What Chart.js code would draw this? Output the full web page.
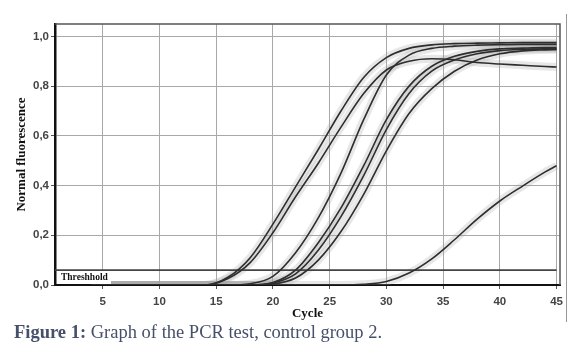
<!DOCTYPE html>
<html>
<head>
<meta charset="utf-8">
<script src="https://cdn.jsdelivr.net/npm/chart.js@4.4.1/dist/chart.umd.min.js"></script>
<style>
    body { margin: 0; background: #fff; }
    #wrap { position: relative; width: 588px; height: 358px; }
    #caption {
        position: absolute; left: 14px; top: 322px;
        font-family: 'Liberation Serif', serif; font-size: 18.5px; color: #46506a;
        white-space: nowrap;
    }
    #caption b { font-weight: bold; }
</style>
</head>
<body>
<div id="wrap">
    <canvas id="chart"></canvas>
    <div id="caption"><b>Figure 1:</b> Graph of the PCR test, control group 2.</div>
</div>
<script>
// Data (cycle -> normalised fluorescence)
const cycles = [4, 14, 16, 18, 20, 22, 24, 26, 28, 30, 32, 34, 36, 38, 40, 42, 44, 45];
const sample_a = [0, 0, 0.03, 0.11, 0.245, 0.395, 0.545, 0.70, 0.835, 0.915, 0.952, 0.966, 0.971, 0.973, 0.974, 0.975, 0.975, 0.975];
const sample_b = [0, 0, 0.025, 0.09, 0.21, 0.355, 0.49, 0.635, 0.77, 0.865, 0.90, 0.91, 0.906, 0.895, 0.889, 0.884, 0.879, 0.877];
const sample_c = [0, 0, 0, 0.005, 0.035, 0.13, 0.27, 0.45, 0.665, 0.845, 0.925, 0.952, 0.961, 0.965, 0.967, 0.968, 0.968, 0.968];
const sample_d = [0, 0, 0, 0, 0.01, 0.06, 0.17, 0.31, 0.48, 0.665, 0.80, 0.88, 0.92, 0.94, 0.95, 0.953, 0.955, 0.955];
const sample_e = [0, 0, 0, 0, 0.008, 0.045, 0.14, 0.275, 0.44, 0.625, 0.77, 0.86, 0.905, 0.93, 0.943, 0.948, 0.95, 0.95];
const sample_f = [0, 0, 0, 0, 0.004, 0.028, 0.1, 0.215, 0.365, 0.54, 0.69, 0.79, 0.86, 0.905, 0.93, 0.942, 0.946, 0.947];
const sample_g = [0, 0, 0, 0, 0, 0, 0, 0, 0.003, 0.014, 0.048, 0.105, 0.182, 0.265, 0.338, 0.398, 0.455, 0.48];
const threshold = 0.06;
const x_ticks = [5, 10, 15, 20, 25, 30, 35, 40, 45];
const y_ticks = [0, 0.2, 0.4, 0.6, 0.8, 1.0];

const curves = [sample_a, sample_b, sample_c, sample_d, sample_e, sample_f, sample_g];

const line_color = '#2e2e2e';
const halo_color = 'rgba(160,160,160,0.25)';
const grid_color = '#a8a8a8';
const serif = "'Liberation Serif', 'Times New Roman', serif";
const sans = "'Liberation Sans', Arial, sans-serif";

function to_points(values) {
    return values.map((v, i) => ({ x: cycles[i], y: v }));
}

const datasets = [];
curves.forEach(values => {
    datasets.push({
        data: to_points(values),
        borderColor: line_color,
        borderWidth: 1.6,
        order: 0,
    });
    datasets.push({
        data: to_points(values),
        borderColor: halo_color,
        borderWidth: 8,
        order: 2,
    });
});
datasets.push({
    data: [{ x: 0.8, y: threshold }, { x: 45, y: threshold }],
    borderColor: '#444',
    borderWidth: 1.6,
    cubicInterpolationMode: 'default',
    order: 1,
});

// Frame, threshold label and side line
const extras = {
    id: 'extras',
    afterDraw(chart) {
        const { ctx, chartArea: a } = chart;
        ctx.save();
        ctx.strokeStyle = '#555';
        ctx.lineWidth = 1.5;
        ctx.beginPath();
        ctx.moveTo(a.left, a.top);
        ctx.lineTo(a.right, a.top);
        ctx.lineTo(a.right, a.bottom);
        ctx.stroke();

        ctx.strokeStyle = '#999';
        ctx.lineWidth = 1;
        ctx.beginPath();
        ctx.moveTo(566.5, 14);
        ctx.lineTo(566.5, 322);
        ctx.stroke();

        const ty = chart.scales.y.getPixelForValue(threshold);
        ctx.fillStyle = '#fff';
        ctx.fillRect(a.left + 2, ty + 1, 54, a.bottom - ty - 2);
        ctx.fillStyle = '#111';
        ctx.font = 'bold 9.5px ' + serif;
        ctx.textBaseline = 'middle';
        ctx.fillText('Threshhold', a.left + 6, (ty + a.bottom) / 2 + 0.5);
        ctx.restore();
    }
};

const chart_canvas = document.getElementById('chart');
Chart.defaults.font.family = sans;
Chart.defaults.color = '#444';

new Chart(chart_canvas, {
    type: 'line',
    data: { datasets: datasets },
    options: {
        animation: false,
        responsive: true,
        maintainAspectRatio: false,
        layout: { padding: { top: 24, right: 28, left: 0, bottom: 0 } },
        elements: {
            point: { radius: 0 },
            line: { cubicInterpolationMode: 'monotone' },
        },
        plugins: {
            legend: { display: false },
            tooltip: { enabled: false },
        },
        scales: {
            x: {
                type: 'linear',
                min: 0.8,
                max: 45.3,
                afterBuildTicks: s => { s.ticks = x_ticks.map(v => ({ value: v })); },
                afterFit: s => { s.height = 73; },
                border: { color: '#111', width: 2 },
                grid: { color: grid_color, lineWidth: 1, tickLength: 4, tickColor: '#555' },
                ticks: {
                    padding: 6,
                    font: { size: 11.5, weight: 'bold' },
                    color: '#444',
                    maxRotation: 0,
                },
                title: {
                    display: true,
                    text: 'Cycle',
                    font: { family: serif, size: 13, weight: 'bold' },
                    color: '#111',
                    padding: { top: 0, bottom: 37 },
                },
            },
            y: {
                min: 0,
                max: 1.05,
                afterBuildTicks: s => { s.ticks = y_ticks.map(v => ({ value: v })); },
                afterFit: s => { s.width = 55; },
                border: { color: '#111', width: 2.5 },
                grid: { color: grid_color, lineWidth: 1, tickLength: 4, tickColor: '#555' },
                ticks: {
                    padding: 2,
                    font: { size: 11.5, weight: 'bold' },
                    color: '#444',
                    callback: v => v.toFixed(1).replace('.', ','),
                },
                title: {
                    display: true,
                    text: 'Normal fluorescence',
                    font: { family: serif, size: 13, weight: 'bold' },
                    color: '#111',
                    padding: { top: 14, bottom: 0 },
                },
            },
        },
    },
    plugins: [extras],
});
</script>
</body>
</html>
